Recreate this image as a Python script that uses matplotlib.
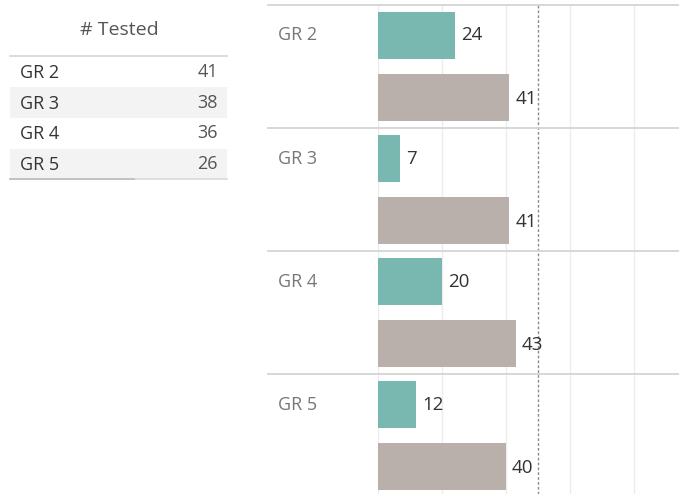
## Tested vs. grade : table on the left, paired bars on the right ##
import matplotlib
matplotlib.use('Agg')
import matplotlib.pyplot as plt
from matplotlib.patches import Rectangle

plt.rcParams['font.family'] = ['Open Sans', 'DejaVu Sans']

##############################################################################
#################################  Data  #####################################
##############################################################################
grades = ['GR 2', 'GR 3', 'GR 4', 'GR 5']
tested = [41, 38, 36, 26]
series_a = [24, 7, 20, 12]     # teal bars
series_b = [41, 41, 43, 40]    # taupe bars
ref_value = 50                 # dashed reference line
grid_ticks = [0, 20, 40, 60, 80]

teal = '#79b8b0'
taupe = '#bab0ab'

W, H = 679, 494
fig = plt.figure(figsize=(W/100, H/100), dpi=100)

##############################################################################
###########################  Left table  #####################################
##############################################################################
tab = fig.add_axes([0, 0, 1, 1])
tab.set_xlim(0, W)
tab.set_ylim(H, 0)
tab.axis('off')

tab.text(119, 30, '# Tested', ha='center', va='center', fontsize=14, color='#555555')
tab.plot([10, 227], [56, 56], color='#d4d4d4', lw=1.2)
row_h = 30.7
for i, (g, v) in enumerate(zip(grades, tested)):
    yc = 72 + i*row_h
    if i % 2 == 1:
        tab.add_patch(Rectangle((10, yc-row_h/2), 217, row_h, color='#f3f3f3', lw=0))
    tab.text(20, yc+1, g, ha='left', va='center', fontsize=13, color='#333333')
    tab.text(218, yc, str(v), ha='right', va='center', fontsize=13, color='#555555')
tab.plot([10, 227], [179, 179], color='#d9d9d9', lw=1.2)
tab.plot([10, 134], [179, 179], color='#bdbdbd', lw=1.2)

##############################################################################
###########################  Bar pane  #######################################
##############################################################################
x0, top = 378, 5
ax = fig.add_axes([x0/W, 0, (W-x0)/W, (H-top)/H])
px_per_unit = 3.2
ax.set_xlim(0, (W-x0)/px_per_unit)
group_px = 123.
ax.set_ylim((H-top)/group_px, 0)
for s in ax.spines.values():
    s.set_visible(False)
ax.set_xticks([])
ax.set_yticks([])

for t in grid_ticks:
    ax.axvline(t, color='#ececec', lw=1, zorder=0)
ax.axvline(ref_value, color='#8c8c8c', lw=1, ls=(0, (2, 1.5)), zorder=3)

bar_h = 47/group_px
c_a = 30.5/group_px
c_b = 92.5/group_px
ypos = list(range(len(grades)))
ax.barh([y+c_a for y in ypos], series_a, height=bar_h, color=teal, zorder=2)
ax.barh([y+c_b for y in ypos], series_b, height=bar_h, color=taupe, zorder=2)

off = 6/px_per_unit
for y, a, b, g in zip(ypos, series_a, series_b, grades):
    ax.text(a+off, y+c_a, str(a), ha='left', va='center', fontsize=13.5, color='#333333', zorder=4)
    ax.text(b+off, y+c_b+0.01, str(b), ha='left', va='center', fontsize=13.5, color='#333333', zorder=4)
    ax.text(-100/px_per_unit, y+c_a, g, ha='left', va='center', fontsize=13, color='#777777')

# row separators run across the label pane too
left_frac = -(x0-268)/(W-x0)
for y in range(len(grades)+1):
    ax.axhline(y, xmin=left_frac, xmax=1, color='#d4d4d4', lw=1.3, clip_on=False, zorder=5)

fig.savefig('out.png', dpi=100)
